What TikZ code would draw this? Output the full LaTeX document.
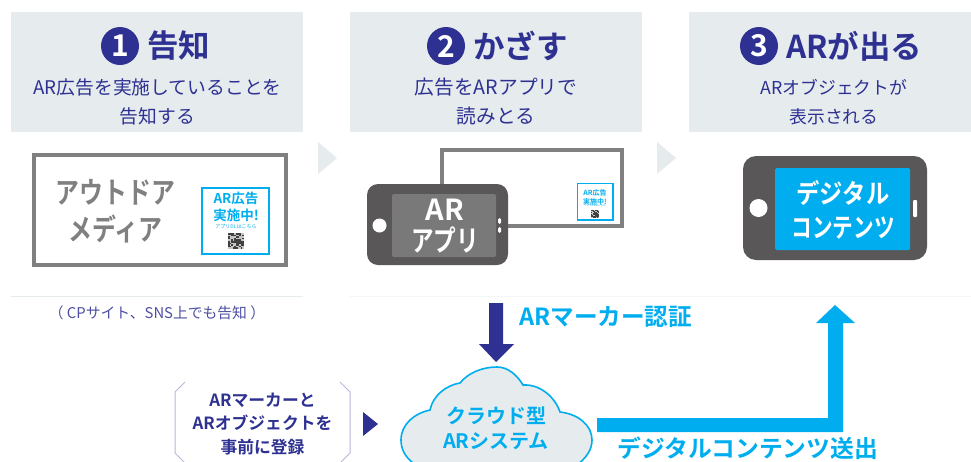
\documentclass[tikz,border=0pt]{standalone}
\usepackage{fontspec}
\setmainfont{Noto Sans CJK JP}[BoldFont={* Bold}]
\definecolor{hdr}{HTML}{E6EBEE}
\definecolor{navy}{HTML}{2E3192}
\definecolor{sky}{HTML}{00AEEF}
\definecolor{phonegray}{HTML}{595757}
\definecolor{scr}{HTML}{797979}
\definecolor{frm}{HTML}{808080}
\tikzset{
 txt/.style={inner sep=0pt,align=center,text=navy},
 hdrbox/.style={fill=hdr,draw=none},
 chev/.style={fill=hdr,draw=none},
 numdot/.style={circle,fill=navy,text=white,inner sep=0pt,minimum size=38pt,font=\fontsize{30}{30}\selectfont\bfseries},
 ttl/.style={txt,anchor=west,font=\fontsize{31.5}{32}\selectfont\bfseries},
 sub/.style={txt},
 phone/.style={fill=phonegray,draw=none,rounded corners=11pt},
 frame/.style={draw=frm,line width=4pt,fill=white},
 qrbox/.style={draw=sky,fill=white},
}
\newcommand{\myqr}[3]{% centre x, y, cell
 \pgfmathsetseed{7}
 \fill[gray!45] (#1-5*#3,#2-5*#3) rectangle (#1+5*#3,#2+5*#3);
 \foreach \i in {0,...,9}{\foreach \j in {0,...,9}{
  \pgfmathparse{int(random(0,1))}
  \ifnum\pgfmathresult>0
  \fill[black!75] (#1-5*#3+\i*#3,#2-5*#3+\j*#3) rectangle ++(#3,#3);
  \fi}}}
\begin{document}
\begin{tikzpicture}[x=1pt,y=-1pt]
\useasboundingbox (0,0) rectangle (971,461);
\clip (0,0) rectangle (971,461);
\fill[white] (0,0) rectangle (971,461);
% headers
\fill[hdrbox] (11,12) rectangle (303,132);
\fill[hdrbox] (350,12) rectangle (642,132);
\fill[hdrbox] (689,12) rectangle (971,132);
\node[numdot] (n1) at (120,46) {1};
\node[ttl] (t1) at (147,46) {告知};
\node[sub,font=\fontsize{18.8}{29}\selectfont] (s1) at (157.5,102) {AR広告を実施していることを\\告知する};
\node[numdot] (n2) at (446,46) {2};
\node[ttl] (t2) at (473,46) {かざす};
\node[sub,font=\fontsize{19.7}{29}\selectfont] (s2) at (496,102) {広告をARアプリで\\読みとる};
\node[numdot] (n3) at (759,46) {3};
\node[ttl] (t3) at (786,46) {ARが出る};
\node[sub,font=\fontsize{17.8}{29}\selectfont] (s3) at (834,102) {ARオブジェクトが\\表示される};
% chevrons
\fill[chev] (318,142) -- (337,158) -- (318,174) -- cycle;
\fill[chev] (657,142) -- (676,158) -- (657,174) -- cycle;
% separators
\draw[hdr,line width=0.8pt] (11,296) -- (303,296);
\draw[hdr!50,line width=0.6pt] (350,296) -- (971,296);
% outdoor media
\draw[frame] (33.5,154.5) rectangle (286,265);
\node[inner sep=0pt,align=center,text=frm,xscale=.81,font=\fontsize{29.5}{37}\selectfont\bfseries] (media) at (115.5,211) {アウトドア\\メディア};
\draw[qrbox,line width=2.5pt] (202,188) rectangle (269,254);
\node[inner sep=0pt,align=center,text=sky,font=\fontsize{13.5}{17}\selectfont\bfseries] (q1) at (236,207) {AR広告\\実施中!};
\node[inner sep=0pt,text=sky,font=\fontsize{5}{5}\selectfont] (q1b) at (236,227) {アプリDLはこちら};
\myqr{236}{241}{1.6}
\node[txt,font=\fontsize{14.8}{16}\selectfont,text=navy!85] (cp) at (157,313) {（ CPサイト、SNS上でも告知 ）};
% step 2
\draw[frm,line width=3.5pt,fill=white] (442,150) rectangle (622,226);
\draw[qrbox,line width=1.3pt] (577.5,183.5) rectangle (613,220);
\node[inner sep=0pt,align=center,text=sky,font=\fontsize{7}{9}\selectfont\bfseries] (q2) at (595,197) {AR広告\\実施中!};
\node[inner sep=0pt,text=sky,font=\fontsize{2.6}{3}\selectfont] (q2b) at (595,206) {アプリDLはこちら};
\myqr{595}{214}{.8}
\fill[phone] (367,184) rectangle (508,265);
\fill[scr,rounded corners=2pt] (392,194) rectangle (496,257);
\fill[white] (379.5,225.5) circle (7pt);
\fill[white,rounded corners=1.5pt] (498,218) rectangle (501,224);
\fill[white,rounded corners=1.5pt] (498,227) rectangle (501,233);
\node[inner sep=0pt,align=center,text=white,font=\fontsize{29}{31}\selectfont\bfseries] (app) at (445,226) {AR\\\scalebox{.78}[1]{アプリ}};
% step 3
\fill[phone,rounded corners=13pt] (743,156) rectangle (927,260);
\fill[sky,rounded corners=1.5pt] (775,168) rectangle (910,250);
\fill[white] (758.5,208) circle (9pt);
\fill[white,rounded corners=1pt] (913,200) rectangle (917,217);
\node[inner sep=0pt,align=center,text=white,font=\fontsize{26.5}{34}\selectfont\bfseries] (dc) at (843,210) {\scalebox{.88}[1]{デジタル}\\\scalebox{.78}[1]{コンテンツ}};
% cloud
\draw[sky,line width=1.6pt,fill=hdr] (416,465)
 .. controls (405,458) and (401,449) .. (401,440)
 .. controls (401,424) and (415,413) .. (430,410)
 .. controls (433,395) and (447,385) .. (460,383)
 .. controls (468,373) and (482,367) .. (497,367)
 .. controls (508,367) and (517,375) .. (523,385)
 .. controls (540,384) and (555,397) .. (560,412)
 .. controls (578,414) and (592,425) .. (592,440)
 .. controls (592,450) and (586,458) .. (577,465) -- cycle;
\node[inner sep=0pt,align=center,text=sky,font=\fontsize{20}{25}\selectfont\bfseries] (cl) at (496,428) {クラウド型\\ARシステム};
% dark down arrow
\fill[navy] (489,303) -- (503,303) -- (503,344) -- (514,344) -- (496,362) -- (479,344) -- (489,344) -- cycle;
\node[inner sep=0pt,anchor=west,text=sky,font=\fontsize{23.6}{24}\selectfont\bfseries] (auth) at (519,317) {ARマーカー認証};
% brackets
\draw[navy!35,line width=1pt] (185,382) -- (175,392) -- (175,453) -- (184,462);
\draw[navy!35,line width=1pt] (340,382) -- (350,392) -- (350,453) -- (341,462);
\node[txt,font=\fontsize{16.8}{23.5}\selectfont\bfseries] (reg) at (262.5,424) {ARマーカーと\\ARオブジェクトを\\事前に登録};
\fill[navy] (363,412) -- (378,424) -- (363,436) -- cycle;
% blue arrow
\fill[sky] (597,418) -- (828,418) -- (828,323) -- (816,323) -- (835,305) -- (855,323) -- (843,323) -- (843,432) -- (597,432) -- cycle;
\node[inner sep=0pt,anchor=west,text=sky,font=\fontsize{23.8}{24}\selectfont\bfseries] (send) at (617,448.5) {デジタルコンテンツ送出};
\end{tikzpicture}
\end{document}
